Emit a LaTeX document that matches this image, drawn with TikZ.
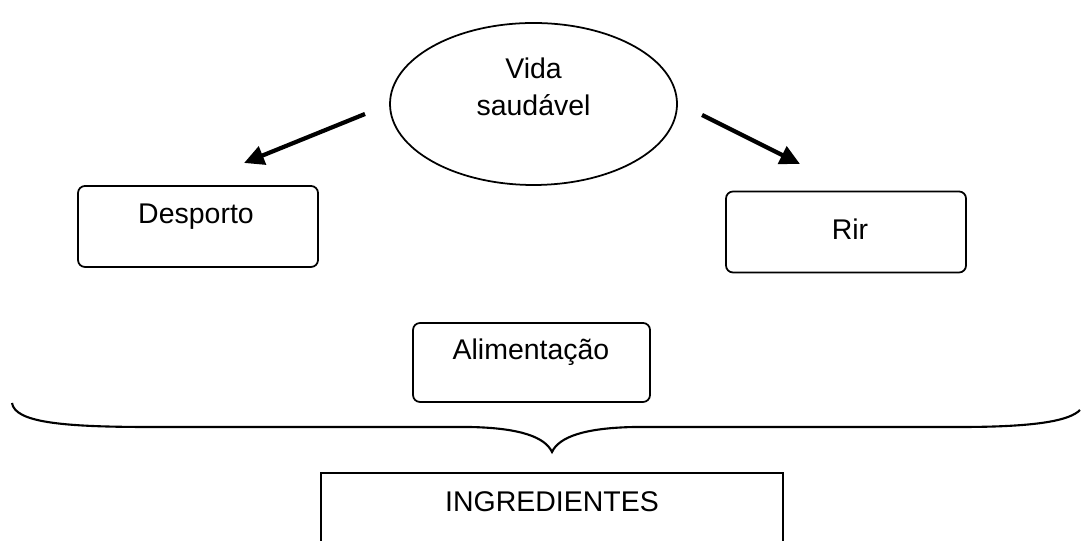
\documentclass[tikz,border=0pt]{standalone}
\usepackage{fontspec}
\setmainfont{Liberation Sans}
\usetikzlibrary{shapes.geometric,arrows.meta,positioning}

\tikzset{
  txt/.style={font=\fontsize{8.1}{10.5}\selectfont, inner sep=0pt, align=center},
  box/.style={draw, rounded corners=0.07cm, minimum width=2.4cm, minimum height=0.81cm, line width=0.5pt},
  bigbox/.style={draw, minimum width=4.62cm, minimum height=0.9cm, line width=0.5pt},
  oval/.style={draw, ellipse, minimum width=2.87cm, minimum height=1.62cm, line width=0.5pt},
  pointer/.style={line width=1.2pt, -{Triangle[length=0.2cm,width=0.19cm]}},
}

\begin{document}
\begin{tikzpicture}
    \useasboundingbox (0,0) rectangle (10.81,-5.41);
    \clip (0,0) rectangle (10.81,-5.41);
    % top
    \node[oval] (vida) at (5.335,-1.04) {};
    \node[txt] (vida-t) at (5.335,-0.865) {Vida\\saudável};
    % boxes
    \node[box] (desporto) at (1.98,-2.265) {};
    \node[txt] (desporto-t) at (1.96,-2.17) {Desporto};
    \node[box] (rir) at (8.46,-2.32) {};
    \node[txt] (rir-t) at (8.50,-2.29) {Rir};
    \node[box, minimum width=2.37cm, minimum height=0.79cm] (alim) at (5.315,-3.625) {};
    \node[txt] (alim-t) at (5.31,-3.52) {Alimentação};
    \node[bigbox] (ingr) at (5.52,-5.18) {};
    \node[txt] (ingr-t) at (5.52,-5.02) {INGREDIENTES};
    % arrows
    \coordinate (l0) at (3.65,-1.14);
    \coordinate (l1) at (2.44,-1.63);
    \coordinate (r0) at (7.02,-1.15);
    \coordinate (r1) at (8.00,-1.64);
    \draw[pointer] (l0) -- (l1);
    \draw[pointer] (r0) -- (r1);
    % brace
    \draw[line width=0.6pt] (0.12,-4.03) .. controls (0.15,-4.22) and (0.6,-4.27) .. (1.5,-4.27)
        -- (4.7,-4.27) .. controls (5.2,-4.28) and (5.45,-4.37) .. (5.52,-4.52)
        .. controls (5.59,-4.37) and (5.84,-4.28) .. (6.34,-4.27)
        -- (9.6,-4.27) .. controls (10.4,-4.27) and (10.7,-4.2) .. (10.8,-4.1);
\end{tikzpicture}
\end{document}
